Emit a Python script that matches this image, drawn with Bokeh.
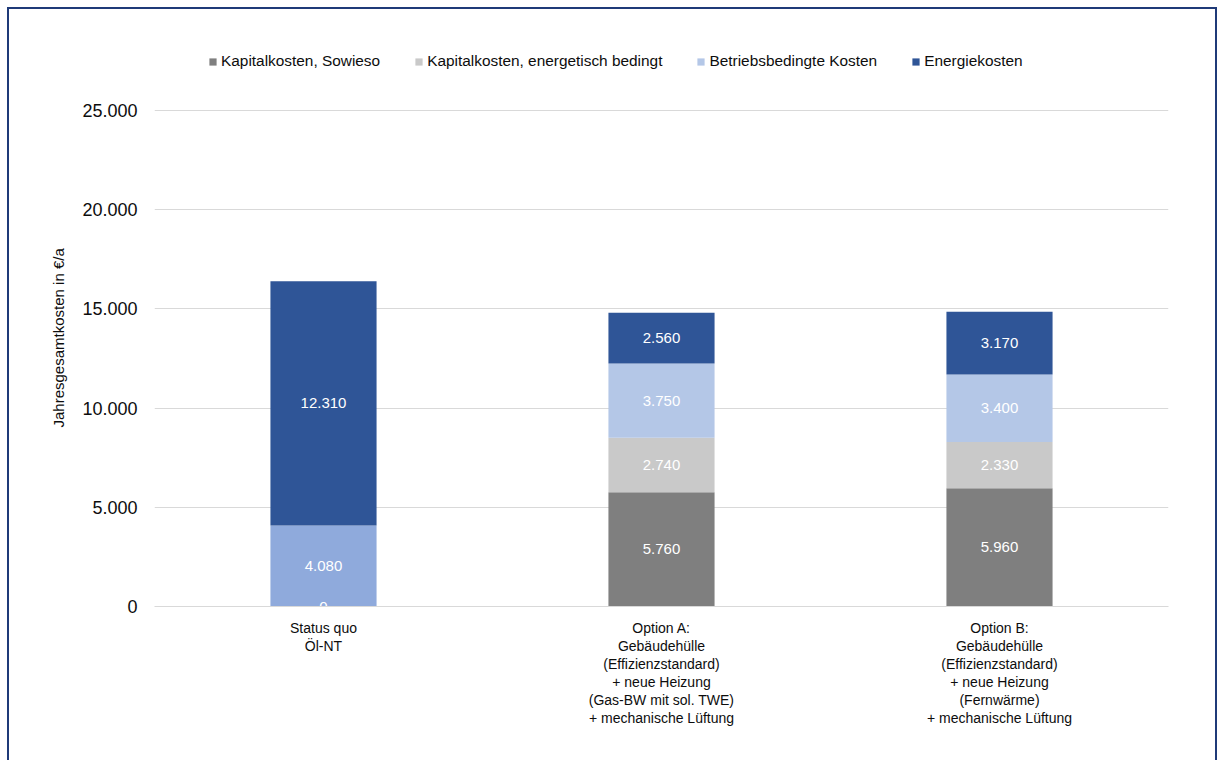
import numpy as np
from bokeh.plotting import figure
from bokeh.models import (Range1d, FactorRange, FixedTicker, Legend, LegendItem,
                          ColumnDataSource, InlineStyleSheet, Title)
from bokeh.core.properties import value
from bokeh.embed import file_html
from bokeh.resources import INLINE

# ---------------- data ----------------
categories = [
    "Status quo\nÖl-NT",
    "Option A:\nGebäudehülle\n(Effizienzstandard)\n+ neue Heizung\n(Gas-BW mit sol. TWE)\n+ mechanische Lüftung",
    "Option B:\nGebäudehülle\n(Effizienzstandard)\n+ neue Heizung\n(Fernwärme)\n+ mechanische Lüftung",
]
series_names = ["Kapitalkosten, Sowieso", "Kapitalkosten, energetisch bedingt",
                "Betriebsbedingte Kosten", "Energiekosten"]
kap_sowieso = [0, 5760, 5960]
kap_energetisch = [0, 2740, 2330]
betriebsbedingt = [4080, 3750, 3400]
energiekosten = [12310, 2560, 3170]
y_ticks = [0, 5000, 10000, 15000, 20000, 25000]
y_tick_labels = ["0", "5.000", "10.000", "15.000", "20.000", "25.000"]
y_axis_title = "Jahresgesamtkosten in €/a"

# ---------------- layout / style ----------------
FONT = "Liberation Sans"
TXT = "#0d0d0d"
series_colors = [
    ["#7f7f7f"] * 3,
    ["#c9c9c9"] * 3,
    ["#8faadc", "#b4c7e7", "#b4c7e7"],
    ["#2f5597"] * 3,
]
FRAME_TOP, AXIS_TOP_PX, FRAME_BOTTOM = 40, 110, 606
y_end = y_ticks[-1] * (FRAME_BOTTOM - FRAME_TOP) / (FRAME_BOTTOM - AXIS_TOP_PX)

p = figure(
    width=1224, height=760,
    x_range=FactorRange(*categories, range_padding=0.0),
    y_range=Range1d(0, y_end),
    output_backend="svg", toolbar_location=None,
    min_border_left=154, min_border_right=56,
    min_border_top=FRAME_TOP, min_border_bottom=760 - FRAME_BOTTOM,
    background_fill_color="white", border_fill_color="white",
)
p.outline_line_color = None

series = [kap_sowieso, kap_energetisch, betriebsbedingt, energiekosten]
bottom = np.zeros(len(categories))
renderers = []
lab_x, lab_y, lab_t = [], [], []
for i, (vals, cols) in enumerate(zip(series, series_colors)):
    vals = np.array(vals, dtype=float)
    top = bottom + vals
    src = ColumnDataSource(dict(x=categories, bottom=bottom.copy(), top=top.copy(), color=cols))
    r = p.vbar(x="x", bottom="bottom", top="top", width=0.314, source=src,
               fill_color="color", line_color=None)
    renderers.append(r)
    for c, b, v in zip(categories, bottom, vals):
        if v > 0 or i == 0:
            lab_x.append(c)
            lab_y.append(b + v / 2)
            lab_t.append(f"{int(v):,}".replace(",", "."))
    bottom = top

p.text(x=lab_x, y=lab_y, text=lab_t, text_color="white",
       text_font=value(FONT), text_font_size="15px",
       text_align="center", text_baseline="middle")

# legend
items = [LegendItem(label=n, renderers=[r], index=1) for n, r in zip(series_names, renderers)]
legend = Legend(items=items, orientation="horizontal",
                location=(54, FRAME_BOTTOM - 52 - 18),
                glyph_width=9, glyph_height=9, label_standoff=4, spacing=34,
                padding=0, margin=0, border_line_color=None,
                background_fill_alpha=0, label_height=18,
                label_text_font=FONT, label_text_font_size="15.4px",
                label_text_color=TXT)
p.add_layout(legend, "center")

# grid
p.xgrid.grid_line_color = None
p.ygrid.grid_line_color = "#d9d9d9"
p.ygrid.grid_line_width = 1
p.yaxis.ticker = FixedTicker(ticks=y_ticks)
p.yaxis.major_label_overrides = {t: l for t, l in zip(y_ticks, y_tick_labels)}

# y axis
p.yaxis.axis_line_color = None
p.yaxis.major_tick_line_color = None
p.yaxis.minor_tick_line_color = None
p.yaxis.major_label_standoff = 11
p.yaxis.major_label_text_font = FONT
p.yaxis.major_label_text_font_size = "18px"
p.yaxis.major_label_text_color = TXT

ytitle = Title(text=y_axis_title, align="left", offset=179, standoff=26,
               text_font=FONT, text_font_size="15px", text_font_style="normal",
               text_color=TXT)
p.add_layout(ytitle, "left")

# x axis
p.xaxis.axis_line_color = "#d9d9d9"
p.xaxis.major_tick_line_color = None
p.xaxis.minor_tick_line_color = None
p.xaxis.major_label_standoff = 7
p.xaxis.major_label_text_font = FONT
p.xaxis.major_label_text_font_size = "14px"
p.xaxis.major_label_text_line_height = 1.13
p.xaxis.major_label_text_color = TXT
p.xaxis.major_label_orientation = "horizontal"

# outer frame (top, left, right visible)
p.stylesheets = [InlineStyleSheet(css="""
:host { position: relative; }
:host::after {
  content: ''; position: absolute; left: 7px; top: 7px;
  width: 1206px; height: 900px;
  border: 2px solid #1f3a78; pointer-events: none; box-sizing: content-box;
}
""")]

open("out.html", "w").write(file_html(p, INLINE))
